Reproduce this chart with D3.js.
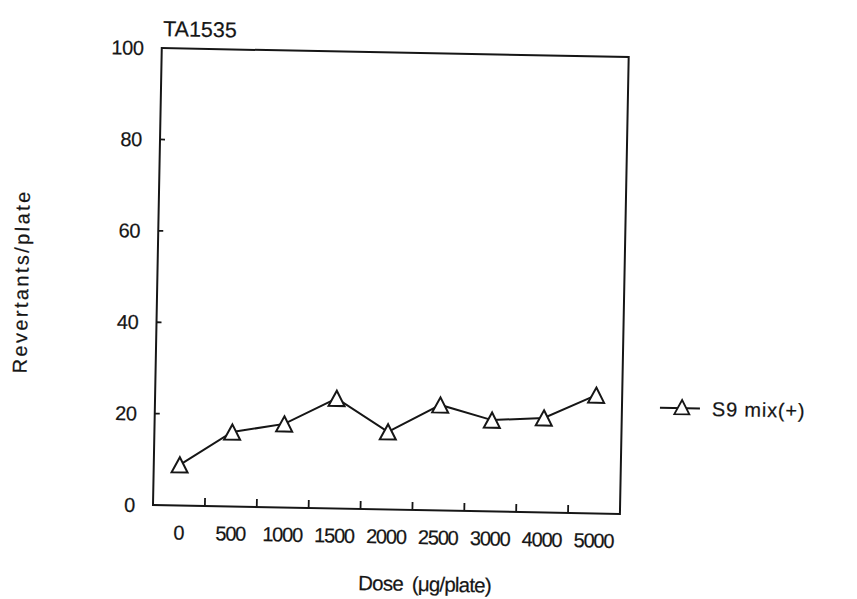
<!DOCTYPE html>
<html>
<head>
<meta charset="utf-8">
<script src="https://cdn.jsdelivr.net/npm/d3@7"></script>
<style>
  body { margin: 0; background: #fff; }
  text { font-family: "Liberation Sans", Arial, sans-serif; fill: #161616; stroke: #161616; stroke-width: 0.2px; }
</style>
</head>
<body>
<div id="chart"></div>
<script>
let doses = ["0", "500", "1000", "1500", "2000", "2500", "3000", "4000", "5000"];
let revertants = [8.9, 16.3, 18.3, 24.1, 17.0, 23.1, 20.0, 20.7, 25.9];
let yTicks = [0, 20, 40, 60, 80, 100];
let seriesName = "S9 mix(+)";
let chartTitle = "TA1535";
let xTitle = "Dose (\u03bcg/plate)";
let yTitle = "Revertants/plate";

let width = 857;
let height = 599;
let left = 153, bottom = 505, plotW = 467, plotH = 457;
let ink = "#161616";

// the scanned figure sits about 1 degree clockwise
let tilt = 1.1;

function trianglePath(r) {
    // box-centred triangle, apex up
    return `M0,${-r * 0.95}L${r},${r * 0.95}L${-r},${r * 0.95}Z`;
}

function renderChart() {
    let svg = d3.select("#chart")
        .append("svg")
        .attr("width", width)
        .attr("height", height)
        .style("background-color", "#fff");

    let g = svg.append("g")
        .attr("transform", `rotate(${tilt},${left},${bottom})`);

    let xScale = d3.scaleBand()
        .domain(doses)
        .range([left, left + plotW]);

    let yScale = d3.scaleLinear()
        .domain([0, 100])
        .range([bottom, bottom - plotH]);

    // frame
    g.append("rect")
        .attr("x", left)
        .attr("y", bottom - plotH)
        .attr("width", plotW)
        .attr("height", plotH)
        .style("fill", "none")
        .style("stroke", ink)
        .style("stroke-width", 2);

    // y ticks, pointing inward
    g.selectAll("line.ytick")
        .data(yTicks.filter(t => t > 0 && t < 100))
        .enter()
        .append("line")
        .attr("x1", left)
        .attr("x2", left + 5)
        .attr("y1", t => yScale(t))
        .attr("y2", t => yScale(t))
        .style("stroke", ink)
        .style("stroke-width", 1.8);

    g.selectAll("text.ylabel")
        .data(yTicks)
        .enter()
        .append("text")
        .attr("x", left - 18)
        .attr("y", t => yScale(t))
        .attr("dy", "0.36em")
        .attr("text-anchor", "end")
        .style("font-size", "20px")
        .style("letter-spacing", "-0.3px")
        .text(t => t);

    // x ticks sit between the categories
    g.selectAll("line.xtick")
        .data(doses.slice(1))
        .enter()
        .append("line")
        .attr("x1", d => xScale(d))
        .attr("x2", d => xScale(d))
        .attr("y1", bottom)
        .attr("y2", bottom - 8)
        .style("stroke", ink)
        .style("stroke-width", 1.8);

    g.selectAll("text.xlabel")
        .data(doses)
        .enter()
        .append("text")
        .attr("x", d => xScale(d) + xScale.bandwidth() / 2)
        .attr("y", bottom + 34)
        .attr("text-anchor", "middle")
        .style("font-size", "20px")
        .style("letter-spacing", "-1.2px")
        .text(d => d);

    // series
    let line = d3.line()
        .x((v, i) => xScale(doses[i]) + xScale.bandwidth() / 2)
        .y(v => yScale(v));

    g.append("path")
        .datum(revertants)
        .attr("d", line)
        .style("fill", "none")
        .style("stroke", ink)
        .style("stroke-width", 2);

    g.selectAll("path.marker")
        .data(revertants)
        .enter()
        .append("path")
        .attr("d", trianglePath(8))
        .attr("transform", (v, i) => `translate(${xScale(doses[i]) + xScale.bandwidth() / 2},${yScale(v)})`)
        .style("fill", "#fff")
        .style("stroke", ink)
        .style("stroke-width", 2);

    // titles
    g.append("text")
        .attr("x", 154)
        .attr("y", 36)
        .style("font-size", "21.5px")
        .text(chartTitle);

    g.append("text")
        .attr("transform", "translate(24,284) rotate(-90)")
        .attr("text-anchor", "middle")
        .style("font-size", "20px")
        .style("letter-spacing", "2.4px")
        .text(yTitle);

    g.append("text")
        .attr("x", 426)
        .attr("y", 586)
        .attr("text-anchor", "middle")
        .style("font-size", "20.5px")
        .style("letter-spacing", "-0.8px")
        .style("word-spacing", "4px")
        .text(xTitle);

    // legend
    let legend = g.append("g").attr("transform", "translate(658,398)");
    legend.append("line")
        .attr("x1", 0)
        .attr("x2", 40)
        .style("stroke", ink)
        .style("stroke-width", 2);
    legend.append("path")
        .attr("d", trianglePath(7.5))
        .attr("transform", "translate(22,-1)")
        .style("fill", "#fff")
        .style("stroke", ink)
        .style("stroke-width", 1.8);
    legend.append("text")
        .attr("x", 52)
        .attr("y", 0)
        .attr("dy", "0.36em")
        .style("font-size", "20px")
        .style("letter-spacing", "0.8px")
        .text(seriesName);
}

renderChart();
</script>
</body>
</html>
